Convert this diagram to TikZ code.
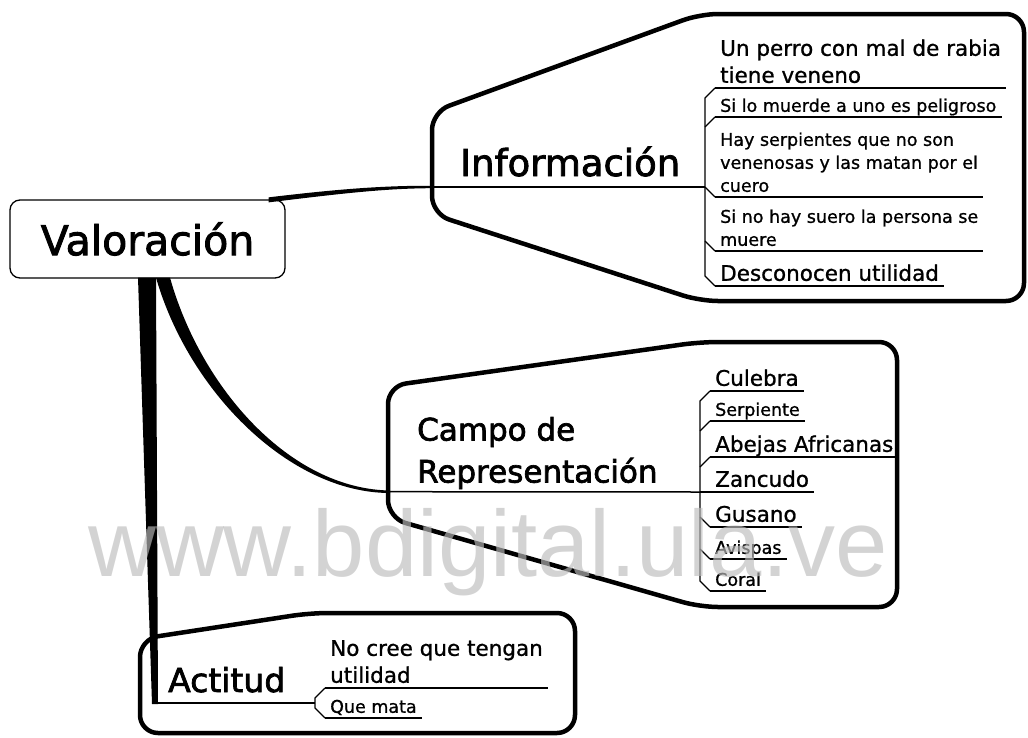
\documentclass[tikz,border=0pt]{standalone}
\usepackage{fontspec}
\setmainfont{DejaVu Sans}[FakeBold=1]
\newfontfamily\titlefont{DejaVu Sans}[FakeBold=2.2]
\newfontfamily\wmfont{Liberation Sans}
\usepackage{tikz}
\usetikzlibrary{calc}
\definecolor{wmgray}{RGB}{188,188,188}

\begin{document}
\begin{tikzpicture}[x=1pt,y=-1pt,
	  every node/.style={inner sep=0pt},
	  rootbox/.style={draw,line width=1.3pt,rounded corners=10pt,minimum width=275pt,minimum height=78pt,font=\titlefont\fontsize{41}{48}\selectfont},
	  topic/.style={align=left},
	  blob/.style={line width=4.5pt,rounded corners=18pt,line join=round},
	  branch/.style={fill=black},
	  stem/.style={line width=1.5pt},
	  twig/.style={line width=1.3pt},
	  leaf/.style={anchor=south west,inner xsep=5pt,inner ysep=2.5pt,text depth=.25em,align=left},
	  bigleaf/.style={leaf,font=\fontsize{21.5}{27}\selectfont},
	  smallleaf/.style={leaf,font=\fontsize{17.5}{23}\selectfont}]

	  \useasboundingbox (0,0) rectangle (1028,737);

	  % Main topics
	  \node[rootbox] (valoracion) at (147.5,239) {Valoración};
	  \node[topic,anchor=base west,font=\titlefont\fontsize{37}{44}\selectfont] (informacion) at (460,176) {Información};
	  \node[topic,anchor=west,font=\titlefont\fontsize{31}{42}\selectfont] (campo) at (417,453) {Campo de\\Representación};
	  \node[topic,anchor=base west,font=\titlefont\fontsize{33}{40}\selectfont] (actitud) at (168,692) {Actitud};

	  % Outlines round each topic
	  \draw[blob] (700,14) -- (1024,14) -- (1024,301) -- (700,301) -- (432,214) -- (432,112) -- cycle;
	  \draw[blob] (700,342) -- (897,342) -- (897,607) -- (700,607) -- (388,518) -- (388,386) -- cycle;
	  \draw[blob] (310,613) -- (575,613) -- (575,733) -- (140,733) -- (140,639) -- cycle;

	  % Subtopics of Informacion
	  \node[bigleaf] (perro) at (715,88) {Un perro con mal de rabia\\tiene veneno};
	  \node[smallleaf] (muerde) at (715,117) {Si lo muerde a uno es peligroso};
	  \node[smallleaf] (serpientes) at (715,197) {Hay serpientes que no son\\venenosas y las matan por el\\cuero};
	  \node[smallleaf] (suero) at (715,251) {Si no hay suero la persona se\\muere};
	  \node[bigleaf] (desconocen) at (715,286) {Desconocen utilidad};

	  % Subtopics of Campo de Representacion
	  \node[bigleaf] (culebra) at (710,391) {Culebra};
	  \node[smallleaf] (serpiente) at (710,421) {Serpiente};
	  \node[bigleaf] (abejas) at (710,457) {Abejas Africanas};
	  \node[bigleaf] (zancudo) at (710,492) {Zancudo};
	  \node[bigleaf] (gusano) at (710,527) {Gusano};
	  \node[smallleaf] (avispas) at (710,559) {Avispas};
	  \node[smallleaf] (coral) at (710,591) {Coral};

	  % Subtopics of Actitud
	  \node[bigleaf] (notengan) at (325,688) {No cree que tengan\\utilidad};
	  \node[smallleaf] (quemata) at (325,718) {Que mata};

	  \foreach \n in {perro,muerde,serpientes,suero,desconocen,culebra,serpiente,abejas,zancudo,gusano,avispas,coral,notengan,quemata}
	    \draw[twig] (\n.south west) -- (\n.south east);

	  \coordinate (infojoint) at (705,187);
	  \coordinate (campojoint) at (700,492);
	  \coordinate (actjoint) at (315,703);

	  % Branches from Valoracion
	  \fill[branch] ($(valoracion.north east)+(-17,-2)$) .. controls (330,190) and (380,185.5) .. (430,185.8)
	    -- (430,188.2) .. controls (380,188.5) and (330,195) .. ($(valoracion.north east)+(-17,3)$) -- cycle;
	  \draw[stem] (430,187) -- (infojoint);
	  \fill[branch] ($(valoracion.south)+(22.5,-1)$) .. controls (201,388) and (290,489) .. (390,490.5)
	    -- (390,493) .. controls (290,493) and (189,392) .. ($(valoracion.south)+(8.5,-1)$) -- cycle;
	  \draw[stem] (390,491.7) -- (campojoint);
	  \fill[branch] ($(valoracion.south)+(-9.5,-1)$) -- ($(valoracion.south)+(8.5,-1)$) -- (158,704) -- (152,704) -- cycle;
	  \draw[stem] (153,703) -- (actjoint);

	  % Brackets
	  \draw[twig] (perro.south west) -- ++(-10,10) -- ($(desconocen.south west)+(-10,-10)$) -- (desconocen.south west);
	  \draw[twig] (muerde.south west) -- ++(-10,10);
	  \draw[twig] (serpientes.south west) -- ++(-10,-10);
	  \draw[twig] (suero.south west) -- ++(-10,-10);
	  \draw[twig] (culebra.south west) -- ++(-10,10) -- ($(coral.south west)+(-10,-10)$) -- (coral.south west);
	  \draw[twig] (serpiente.south west) -- ++(-10,10);
	  \draw[twig] (abejas.south west) -- ++(-10,10);
	  \draw[twig] (campojoint) -- (zancudo.south west);
	  \draw[twig] (gusano.south west) -- ++(-10,-10);
	  \draw[twig] (avispas.south west) -- ++(-10,-10);
	  \draw[twig] (notengan.south west) -- ++(-10,10) -- ($(quemata.south west)+(-10,-10)$) -- (quemata.south west);

	  % Watermark
	  \node[anchor=base west,font=\wmfont\fontsize{94}{94}\selectfont,text=wmgray,text opacity=.65] (watermark) at (88,576) {www.bdigital.ula.ve};
\end{tikzpicture}
\end{document}
